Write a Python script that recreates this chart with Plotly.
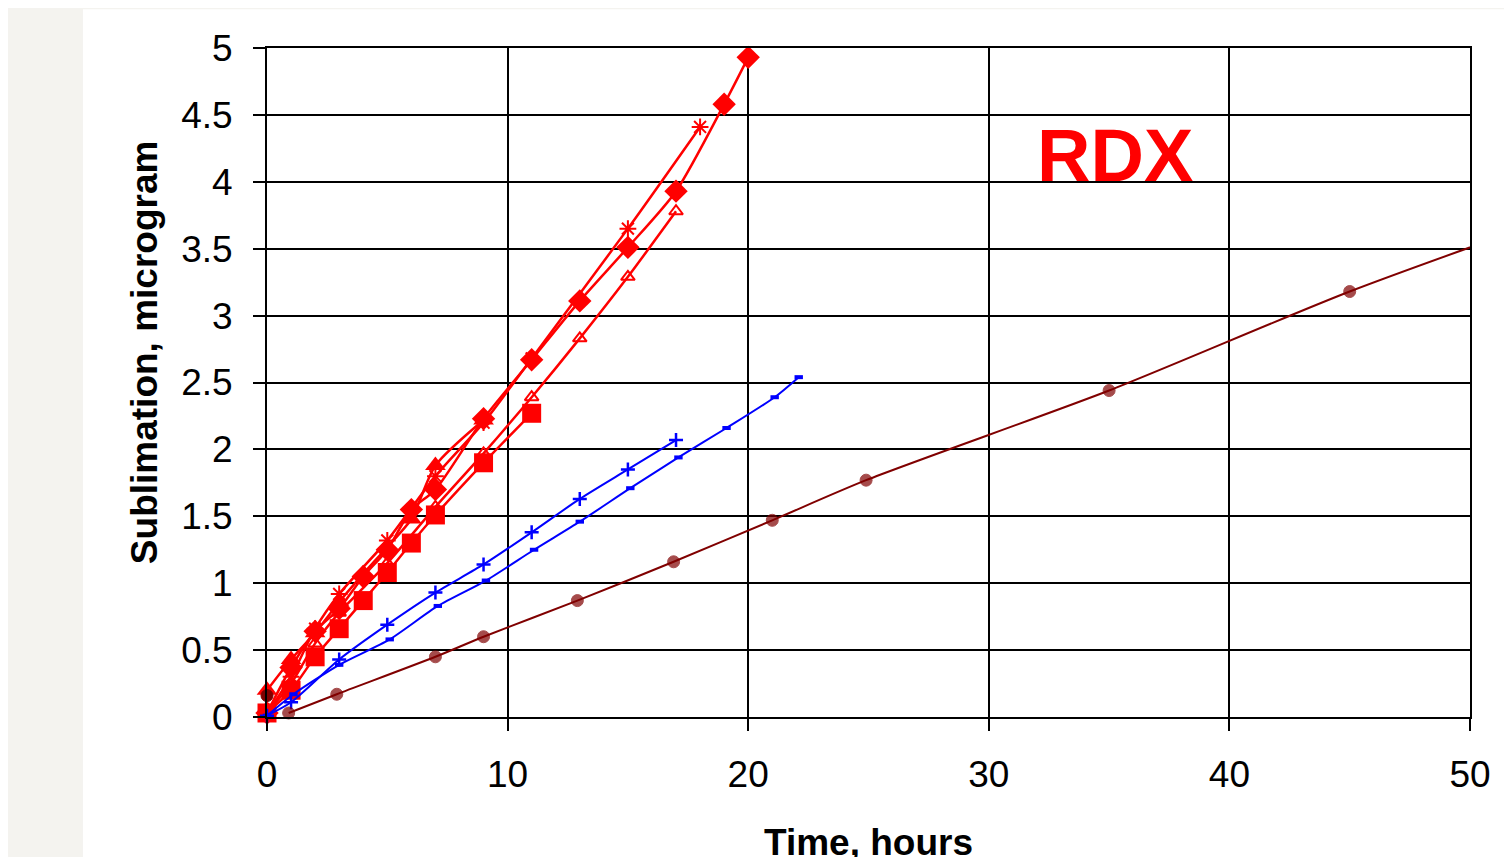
import plotly.graph_objects as go

# ---- data ----
diamond_x = [0, 1, 2, 3, 4, 5, 6, 7, 9, 11, 13, 15, 17, 19, 20]
diamond_y = [0.03, 0.37, 0.64, 0.81, 1.05, 1.25, 1.55, 1.70, 2.23, 2.67, 3.11, 3.51, 3.93, 4.58, 4.93]

tri_x = [0, 1, 2, 3, 4, 5, 6, 7, 9]
tri_y = [0.20, 0.43, 0.63, 0.86, 1.07, 1.27, 1.48, 1.88, 2.22]

star_x = [0, 1, 2, 3, 5, 7, 9, 11, 15, 18]
star_y = [0.03, 0.30, 0.66, 0.92, 1.32, 1.80, 2.20, 2.68, 3.65, 4.41]

otri_x = [0, 1, 2, 3, 5, 7, 9, 11, 13, 15, 17]
otri_y = [0.03, 0.25, 0.55, 0.78, 1.15, 1.57, 1.97, 2.39, 2.83, 3.29, 3.78]

square_x = [0, 1, 2, 3, 4, 5, 6, 7, 9, 11]
square_y = [0.03, 0.20, 0.45, 0.66, 0.87, 1.08, 1.30, 1.51, 1.90, 2.27]

plus_x = [0, 1, 3, 5, 7, 9, 11, 13, 15, 17]
plus_y = [0.01, 0.11, 0.43, 0.69, 0.93, 1.14, 1.38, 1.63, 1.85, 2.07]

dash_x = [0, 1.1, 3.0, 5.1, 7.1, 9.1, 11.1, 13.0, 15.1, 17.1, 19.1, 21.1, 22.1]
dash_y = [0.01, 0.17, 0.39, 0.58, 0.83, 1.02, 1.25, 1.46, 1.71, 1.94, 2.16, 2.39, 2.54]

brown_x = [0.9, 2.9, 7.0, 9.0, 12.9, 16.9, 21.0, 24.9, 35.0, 45.0, 55.0]
brown_y = [0.03, 0.17, 0.45, 0.60, 0.87, 1.16, 1.47, 1.77, 2.44, 3.18, 3.83]
brown_start_x = [0]
brown_start_y = [0.16]

x_ticks = [0, 10, 20, 30, 40, 50]
y_ticks = [0, 0.5, 1, 1.5, 2, 2.5, 3, 3.5, 4, 4.5, 5]
y_ticktext = ["0", "0.5", "1", "1.5", "2", "2.5", "3", "3.5", "4", "4.5", "5"]

RED = "#FF0000"
BLUE = "#0000FF"
BROWN = "#800000"
FONT = "Liberation Sans, Arial, sans-serif"

fig = go.Figure()

def add(x, y, color, symbol, size, lw=2, mlw=0, sizes=None, mode="lines+markers"):
    fig.add_trace(go.Scatter(
        x=x, y=y, mode=mode,
        line=dict(color=color, width=lw, shape="spline", smoothing=0.7),
        marker=dict(symbol=symbol, size=sizes if sizes is not None else size,
                    color=color, line=dict(color=color, width=mlw)),
        cliponaxis=False, showlegend=False,
    ))

add(square_x, square_y, RED, "square", 19, lw=2.5)
add(otri_x, otri_y, RED, "triangle-up-open", 12, lw=2.5, mlw=2)
add(star_x, star_y, RED, "asterisk-open", 14, lw=2.5, mlw=2)
add(tri_x, tri_y, RED, "triangle-up", 18, lw=2.5)
add(diamond_x, diamond_y, RED, "diamond", 18, lw=2.5)
add(plus_x, plus_y, BLUE, "cross-thin-open", 10, mlw=2.5)
add(dash_x, dash_y, BLUE, "line-ew-open", 6, mlw=4)
brown_sizes = [12 if v <= 50 else 0 for v in brown_x]
add(brown_x, brown_y, BROWN, "circle", 12, sizes=brown_sizes, mlw=1)
add(brown_start_x, brown_start_y, BROWN, "circle", 12, mode="markers", mlw=1)

fig.add_annotation(text="<b>RDX</b>", x=0.705, y=0.84, xref="paper", yref="paper",
                   showarrow=False, font=dict(family=FONT, size=74, color=RED),
                   xanchor="center", yanchor="middle")
fig.add_annotation(text="<b>Time, hours</b>", x=0.5, y=-0.187, xref="paper", yref="paper",
                   showarrow=False, font=dict(family=FONT, size=37, color="black"),
                   xanchor="center", yanchor="middle")
fig.add_annotation(text="<b>Sublimation, microgram</b>", x=-0.1013, y=0.5456, xref="paper", yref="paper",
                   showarrow=False, textangle=-90, font=dict(family=FONT, size=37, color="black"),
                   xanchor="center", yanchor="middle")

# white card over the light grey page
fig.add_shape(type="rect", xref="paper", yref="paper", x0=-0.153, x1=1.06, y0=-0.3, y1=1.058,
              fillcolor="white", line=dict(width=0), layer="below")

axis_common = dict(showgrid=True, gridcolor="black", gridwidth=2, zeroline=False,
                   showline=True, linecolor="black", linewidth=2, mirror=True,
                   ticks="outside", ticklen=12, tickwidth=2, tickcolor="black",
                   tickfont=dict(family=FONT, size=37, color="black"))

fig.update_xaxes(range=[0, 50], tickvals=x_ticks, ticklabelstandoff=12, **axis_common)
fig.update_yaxes(range=[0, 5], tickvals=y_ticks, ticktext=y_ticktext, ticklabelstandoff=13, **axis_common)

fig.update_layout(
    width=1504, height=849,
    margin=dict(l=259, r=42, t=40, b=140),
    paper_bgcolor="#F4F3EF", plot_bgcolor="white",
    font=dict(family=FONT, color="black"),
)

fig.write_html("out.html")
